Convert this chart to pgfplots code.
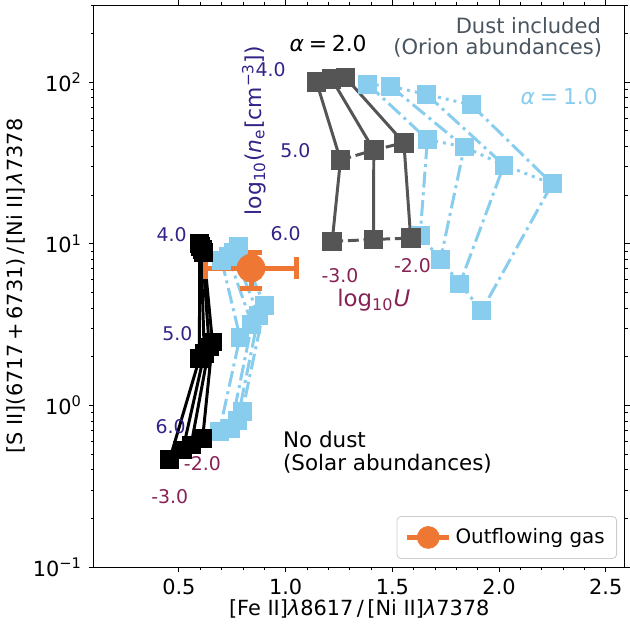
\documentclass[border=0pt]{standalone}
\usepackage{fontspec}
\setmainfont{DejaVu Sans}
\usepackage{pgfplots}
\pgfplotsset{compat=1.18}

\definecolor{tolcyan}{HTML}{88CCEE}
\definecolor{dustgray}{HTML}{555555}
\definecolor{tolindigo}{HTML}{332288}
\definecolor{tolwine}{HTML}{882255}
\definecolor{outorange}{HTML}{EE7733}
\definecolor{slatetext}{HTML}{4A555F}

\tikzset{
  dashsty/.style={dash pattern=on 5.5pt off 2.4pt},
  dashdotsty/.style={dash pattern=on 8pt off 2.4pt on 1.5pt off 2.4pt},
  dotsty/.style={dash pattern=on 1.5pt off 2.5pt},
}
\newcommand{\eqsp}{\hspace{0.22em}=\hspace{0.22em}}

\begin{document}
\begin{tikzpicture}
\begin{axis}[
  scale only axis, width=267.5pt, height=283pt,
  ymode=log,
  xmin=0.1, xmax=2.59, ymin=0.1, ymax=300,
  xtick={0.5,1,1.5,2,2.5}, minor x tick num=4,
  ytick={0.1,1,10,100},
  yticklabels={10\textsuperscript{−1},10\textsuperscript{0},10\textsuperscript{1},10\textsuperscript{2}},
  minor ytick={0.2,0.3,0.4,0.5,0.6,0.7,0.8,0.9,2,3,4,5,6,7,8,9,20,30,40,50,60,70,80,90,200,300},
  tick align=outside, tick pos=both,
  major tick length=2.3pt, minor tick length=1.4pt,
  axis line style={line width=0.5pt},
  every tick/.style={black, line width=0.45pt},
  /pgf/number format/assume math mode=true,
  xticklabel style={/pgf/number format/.cd, fixed, fixed zerofill, precision=1},
  tick label style={font=\fontsize{10.5}{12}\selectfont},
  label style={font=\fontsize{10.5}{12}\selectfont},
  xlabel={[Fe II]\textit{λ}8617\,/\,[Ni II]\textit{λ}7378},
  ylabel={[S II](6717\,+\,6731)\,/\,[Ni II]\,\textit{λ}7378},
  xlabel style={yshift=4.5pt},
  ylabel style={yshift=-3pt},
  legend style={at={(0.985,0.015)}, anchor=south east, rounded corners=2pt,
                draw=black!20, font=\fontsize{10}{12}\selectfont,
                inner xsep=4pt, inner ysep=4pt},
  legend cell align=left,
]

% ---- no dust, alpha = 1.0 (light blue) ----
\addplot[forget plot, tolcyan, line width=1.5pt, dotsty] coordinates {(0.70,7.9) (0.73,8.4) (0.755,8.9) (0.781,9.6)};
\addplot[forget plot, tolcyan, line width=1.5pt, dotsty] coordinates {(0.786,2.65) (0.842,3.19) (0.874,3.62) (0.902,4.17)};
\addplot[forget plot, tolcyan, line width=1.5pt, dotsty] coordinates {(0.689,0.688) (0.743,0.721) (0.774,0.813) (0.797,0.914)};
\addplot[forget plot, tolcyan, line width=1.5pt, dashdotsty, mark=square*, mark size=4pt, mark options={solid}] coordinates {(0.70,7.9) (0.786,2.65) (0.689,0.688)};
\addplot[forget plot, tolcyan, line width=1.5pt, dashdotsty, mark=square*, mark size=4pt, mark options={solid}] coordinates {(0.73,8.4) (0.842,3.19) (0.743,0.721)};
\addplot[forget plot, tolcyan, line width=1.5pt, dashdotsty, mark=square*, mark size=4pt, mark options={solid}] coordinates {(0.755,8.9) (0.874,3.62) (0.774,0.813)};
\addplot[forget plot, tolcyan, line width=1.5pt, dashdotsty, mark=square*, mark size=4pt, mark options={solid}] coordinates {(0.781,9.6) (0.902,4.17) (0.797,0.914)};

% ---- no dust, alpha = 2.0 (black) ----
\addplot[forget plot, black, line width=1.5pt, dashsty] coordinates {(0.597,10.0) (0.603,9.6) (0.61,9.2) (0.617,8.8)};
\addplot[forget plot, black, line width=1.5pt, dashsty] coordinates {(0.596,1.95) (0.619,2.09) (0.642,2.30) (0.657,2.47)};
\addplot[forget plot, black, line width=1.5pt, dashsty] coordinates {(0.456,0.461) (0.518,0.531) (0.557,0.570) (0.611,0.626)};
\addplot[forget plot, black, line width=1.5pt, mark=square*, mark size=4pt] coordinates {(0.597,10.0) (0.596,1.95) (0.456,0.461)};
\addplot[forget plot, black, line width=1.5pt, mark=square*, mark size=4pt] coordinates {(0.603,9.6) (0.619,2.09) (0.518,0.531)};
\addplot[forget plot, black, line width=1.5pt, mark=square*, mark size=4pt] coordinates {(0.61,9.2) (0.642,2.30) (0.557,0.570)};
\addplot[forget plot, black, line width=1.5pt, mark=square*, mark size=4pt] coordinates {(0.617,8.8) (0.657,2.47) (0.611,0.626)};

% ---- dust included, alpha = 1.0 (light blue) ----
\addplot[forget plot, tolcyan, line width=1.5pt, dotsty] coordinates {(1.385,97.3) (1.493,94.2) (1.661,83.9) (1.871,72.3)};
\addplot[forget plot, tolcyan, line width=1.5pt, dotsty] coordinates {(1.664,44.2) (1.837,39.7) (2.023,30.7) (2.249,23.5)};
\addplot[forget plot, tolcyan, line width=1.5pt, dotsty] coordinates {(1.63,11.2) (1.726,8.05) (1.816,5.65) (1.919,3.87)};
\addplot[forget plot, tolcyan, line width=1.5pt, dashdotsty, mark=square*, mark size=4pt, mark options={solid}] coordinates {(1.385,97.3) (1.664,44.2) (1.63,11.2)};
\addplot[forget plot, tolcyan, line width=1.5pt, dashdotsty, mark=square*, mark size=4pt, mark options={solid}] coordinates {(1.493,94.2) (1.837,39.7) (1.726,8.05)};
\addplot[forget plot, tolcyan, line width=1.5pt, dashdotsty, mark=square*, mark size=4pt, mark options={solid}] coordinates {(1.661,83.9) (2.023,30.7) (1.816,5.65)};
\addplot[forget plot, tolcyan, line width=1.5pt, dashdotsty, mark=square*, mark size=4pt, mark options={solid}] coordinates {(1.871,72.3) (2.249,23.5) (1.919,3.87)};

% ---- dust included, alpha = 2.0 (dark grey) ----
\addplot[forget plot, dustgray, line width=1.5pt, dashsty] coordinates {(1.145,100) (1.215,105) (1.28,107)};
\addplot[forget plot, dustgray, line width=1.5pt, dashsty] coordinates {(1.257,33.0) (1.413,38.0) (1.554,42.2)};
\addplot[forget plot, dustgray, line width=1.5pt, dashsty] coordinates {(1.218,10.35) (1.412,10.65) (1.586,10.85)};
\addplot[forget plot, dustgray, line width=1.5pt, mark=square*, mark size=4.2pt] coordinates {(1.145,100) (1.257,33.0) (1.218,10.35)};
\addplot[forget plot, dustgray, line width=1.5pt, mark=square*, mark size=4.2pt] coordinates {(1.215,105) (1.413,38.0) (1.412,10.65)};
\addplot[forget plot, dustgray, line width=1.5pt, mark=square*, mark size=4.2pt] coordinates {(1.28,107) (1.554,42.2) (1.586,10.85)};

% ---- outflowing gas ----
\addplot[outorange, only marks, mark=*, mark size=7pt,
  legend image code/.code={
    \draw[outorange, line width=2.5pt] (0pt,0pt) -- (21pt,0pt);
    \fill[outorange] (10.5pt,0pt) circle (5.5pt);},
  error bars/.cd, x dir=both, x explicit, y dir=both, y explicit,
  error bar style={line width=2.5pt, outorange},
  error mark options={rotate=90, outorange, line width=2.5pt, mark size=5.5pt},
] coordinates {(0.838,7.08) +- (0.215,1.8)};
\addlegendentry{Outflowing gas}

% ---- annotations ----
\node[slatetext, anchor=east, font=\fontsize{10.6}{12}\selectfont] at (axis cs:2.51,225) {Dust included};
\node[slatetext, anchor=east, font=\fontsize{10.6}{12}\selectfont] at (axis cs:2.515,162) {(Orion abundances)};
\node[black, font=\fontsize{11}{13}\selectfont] at (axis cs:1.199,174) {\textit{α}\eqsp2.0};
\node[tolcyan, font=\fontsize{11}{13}\selectfont] at (axis cs:2.282,82) {\textit{α}\eqsp1.0};

\node[tolindigo, font=\fontsize{9.5}{11}\selectfont] at (axis cs:0.93,119) {4.0};
\node[tolindigo, font=\fontsize{9.5}{11}\selectfont] at (axis cs:1.046,37.6) {5.0};
\node[tolindigo, font=\fontsize{9.5}{11}\selectfont] at (axis cs:1.0,11.6) {6.0};
\node[tolindigo, rotate=90, font=\fontsize{11}{13}\selectfont] at (axis cs:0.851,50) {log\textsubscript{10}(\textit{n}\textsubscript{e}[cm\textsuperscript{−3}])};

\node[tolwine, font=\fontsize{9.5}{11}\selectfont] at (axis cs:1.255,6.38) {-3.0};
\node[tolwine, font=\fontsize{9.5}{11}\selectfont] at (axis cs:1.594,7.36) {-2.0};
\node[tolwine, font=\fontsize{11.5}{13}\selectfont] at (axis cs:1.413,4.48) {log\textsubscript{10}\textit{U}};

\node[tolindigo, font=\fontsize{9.5}{11}\selectfont] at (axis cs:0.466,11.4) {4.0};
\node[tolindigo, font=\fontsize{9.5}{11}\selectfont] at (axis cs:0.493,2.77) {5.0};
\node[tolindigo, font=\fontsize{9.5}{11}\selectfont] at (axis cs:0.461,0.74) {6.0};
\node[tolwine, font=\fontsize{9.5}{11}\selectfont] at (axis cs:0.61,0.438) {-2.0};
\node[tolwine, font=\fontsize{9.5}{11}\selectfont] at (axis cs:0.457,0.274) {-3.0};

\node[black, anchor=west, font=\fontsize{10.8}{13}\selectfont] at (axis cs:0.955,0.615) {No dust};
\node[black, anchor=west, font=\fontsize{10.8}{13}\selectfont] at (axis cs:0.955,0.438) {(Solar abundances)};
\end{axis}
\end{tikzpicture}
\end{document}
